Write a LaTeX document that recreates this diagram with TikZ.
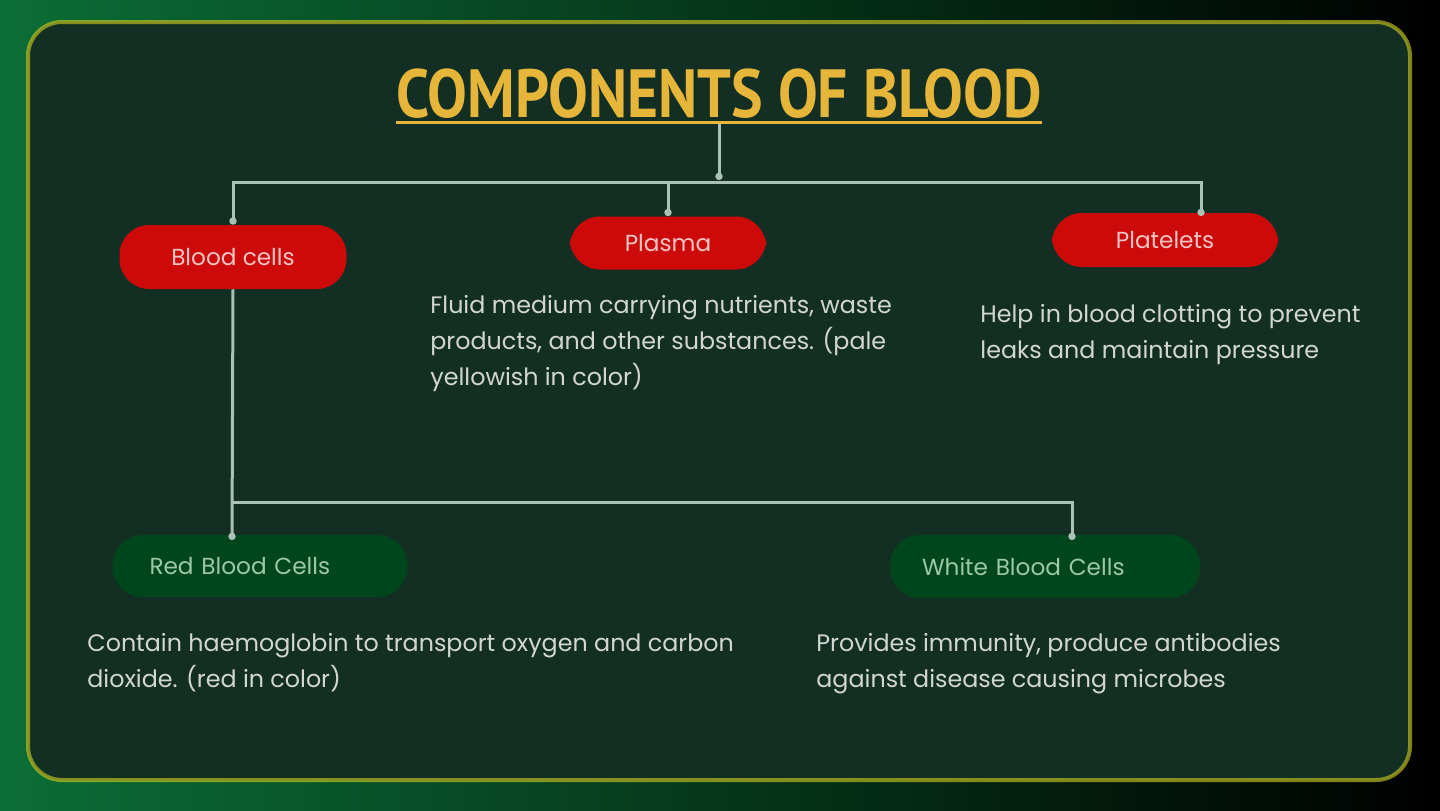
\documentclass[tikz,border=0pt]{standalone}
\usepackage{fontspec}
\setmainfont{Poppins}
\newfontfamily\titlefont{PT Sans}
\usetikzlibrary{arrows.meta,calc}
\definecolor{bggreen}{HTML}{0B6E36}
\definecolor{bgmid}{HTML}{0E4A28}
\definecolor{panel}{HTML}{132F24}
\definecolor{rim}{HTML}{C8C420}
\definecolor{titlecol}{HTML}{E6B63A}
\definecolor{linkcol}{HTML}{A9C2B5}
\definecolor{redpill}{HTML}{CC0A0A}
\definecolor{greenpill}{HTML}{00461C}
\definecolor{redtext}{HTML}{F2C4C4}
\definecolor{greentext}{HTML}{9CC8A8}
\definecolor{desctext}{HTML}{D2D6D2}
\tikzset{
  pill/.style={rectangle, rounded corners=15pt, inner sep=0pt, font=\fontsize{11.6}{13}\selectfont},
  redpillbox/.style={pill, fill=redpill, text=redtext},
  greenpillbox/.style={pill, fill=greenpill, text=greentext, align=left},
  desc/.style={anchor=north west, inner sep=0pt, align=left, text=desctext, font=\fontsize{11.9}{18}\selectfont},
  link/.style={draw=linkcol, line width=1.5pt},
  dotend/.style={-{Circle[length=3.6pt]}}
}
\begin{document}
\begin{tikzpicture}[x=0.5pt,y=-0.5pt]
\useasboundingbox (0,0) rectangle (1440,810);
\shade[left color=bggreen, middle color=bgmid, right color=black] (0,0) rectangle (1440,810);
\draw[fill=panel, draw=rim, draw opacity=0.65, line width=2pt, rounded corners=17pt] (28,22) rectangle (1410,780);

% title
\node[inner sep=0pt, text=titlecol, font=\titlefont\bfseries\fontsize{31}{34}\selectfont] (title) at (719,94) {\scalebox{0.96}[1.1]{COMPONENTS OF BLOOD}};
\draw[titlecol, line width=1.5pt] ($(title.south west)+(0,3)$) -- ($(title.south east)+(0,3)$);
\coordinate (tbot) at ($(title.south)+(0,5)$);

% level 1 nodes
\node[redpillbox, minimum width=113.5pt, minimum height=32pt] (blood) at (233,257) {Blood cells};
\node[redpillbox, minimum width=98pt, minimum height=26.5pt] (plasma) at (668,243) {Plasma};
\node[redpillbox, minimum width=113pt, minimum height=27pt] (plate) at (1165,240) {Platelets};

\coordinate (junc) at (719,180);
\coordinate (platetop) at (1201,216);
\draw[link, dotend] (tbot) -- (junc);
\draw[link, dotend] (junc) ++(0,2) -| (blood.north);
\draw[link, dotend] (junc) ++(0,2) -| (plasma.north);
\draw[link, dotend] (junc) ++(0,2) -| (platetop);

% descriptions
\node[desc] (plasmad) at (430,295) {Fluid medium carrying nutrients, waste\\products, and other substances. (pale\\yellowish in color)};
\node[desc] (plated) at (980,304) {Help in blood clotting to prevent\\leaks and maintain pressure};

% level 2 nodes
\node[greenpillbox, minimum width=147.5pt, minimum height=31pt, text width=110.5pt, inner xsep=18.5pt] (rbc) at (260,566) {Red Blood Cells};
\node[greenpillbox, minimum width=155pt, minimum height=31.5pt, text width=123pt, inner xsep=16pt] (wbc) at (1045,566.5) {White Blood Cells};

\coordinate (junc2) at (232,502);
\coordinate (wbctop) at (1072,540);
\coordinate (rbctop) at (232,540);
\draw[link, dotend] (blood.south) -- (rbctop);
\draw[link, dotend] (junc2) -| (wbctop);

\node[desc] (rbcd) at (87,633) {Contain haemoglobin to transport oxygen and carbon\\dioxide. (red in color)};
\node[desc] (wbcd) at (816,633) {Provides immunity, produce antibodies\\against disease causing microbes};
\end{tikzpicture}
\end{document}
